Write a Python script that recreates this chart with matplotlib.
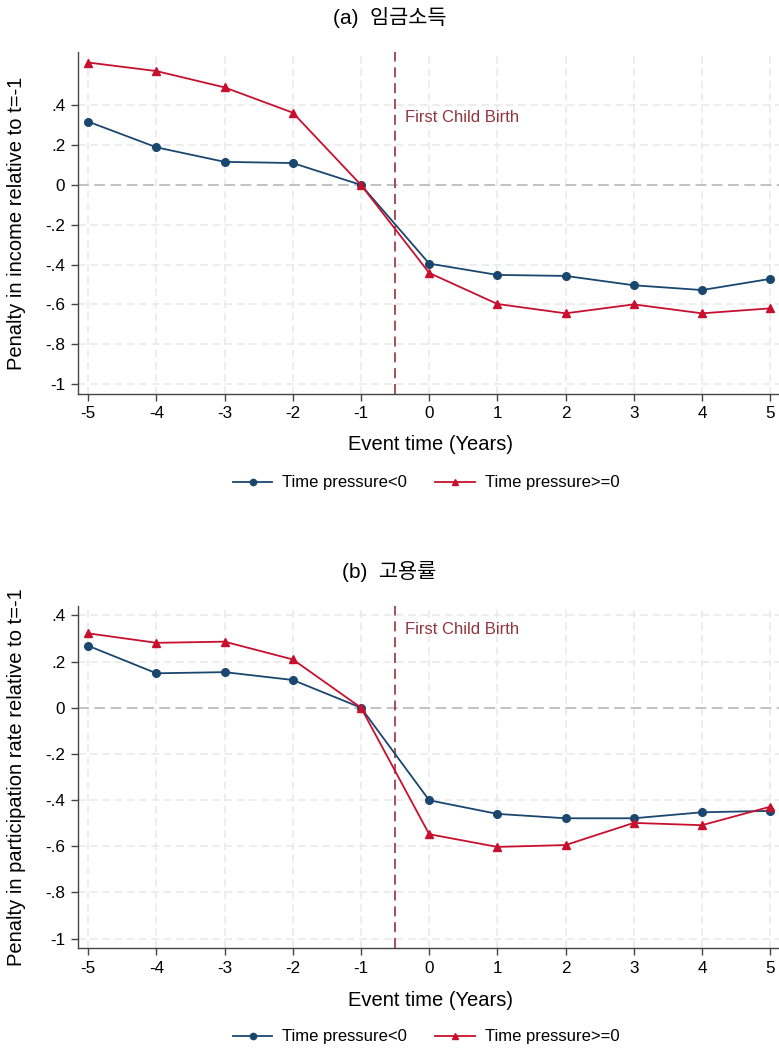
import matplotlib
matplotlib.use("Agg")
import matplotlib.pyplot as plt
import numpy as np

plt.rcParams['font.family'] = ['Liberation Sans', 'Noto Sans CJK KR', 'DejaVu Sans']

# event time
years = [-5, -4, -3, -2, -1, 0, 1, 2, 3, 4, 5]

# panel (a): wage income
income_low = [0.318, 0.189, 0.116, 0.110, 0.0, -0.395, -0.452, -0.457, -0.504, -0.528, -0.472]
income_high = [0.615, 0.572, 0.490, 0.363, 0.0, -0.442, -0.598, -0.645, -0.600, -0.645, -0.620]

# panel (b): employment
emp_low = [0.268, 0.149, 0.154, 0.120, 0.0, -0.401, -0.460, -0.479, -0.479, -0.453, -0.447]
emp_high = [0.322, 0.281, 0.286, 0.209, 0.0, -0.548, -0.603, -0.595, -0.499, -0.509, -0.429]

ytick_vals = [-1, -0.8, -0.6, -0.4, -0.2, 0, 0.2, 0.4]
ytick_labels = ['-1', '-.8', '-.6', '-.4', '-.2', '0', '.2', '.4']
legend_labels = ['Time pressure<0', 'Time pressure>=0']

BLUE = '#1a476f'
RED = '#c8102e'
MAROON = '#93343e'

fig = plt.figure(figsize=(7.79, 10.5), dpi=100)


def panel(rect, low, high, ylim, title, ylabel, title_y, legend_y, xlabel_y):
    ax = fig.add_axes(rect)
    ax.set_xlim(-5.155, 5.13)
    ax.set_ylim(*ylim)

    for v in years:
        ax.axvline(v, color='#e8e8e8', lw=1.1, ls=(0, (5, 3)), zorder=0)
    for v in ytick_vals:
        if v != 0:
            ax.axhline(v, color='#e8e8e8', lw=1.1, ls=(0, (5, 3)), zorder=0)
    ax.axhline(0, color='#bdbdbd', lw=1.3, ls=(0, (6, 3)), zorder=1)

    ax.axvline(-0.5, color=MAROON, lw=1.2, ls=(0, (6, 3.5)), zorder=2)
    ax.text(-0.36, 0.34, 'First Child Birth', color=MAROON, fontsize=12,
            va='center', ha='left')

    ax.plot(years, low, color=BLUE, lw=1.3, marker='o', ms=5.5, zorder=3,
            label=legend_labels[0])
    ax.plot(years, high, color=RED, lw=1.3, marker='^', ms=6, zorder=4,
            label=legend_labels[1])

    ax.set_xticks(years)
    ax.set_xticklabels([str(y) for y in years])
    ax.set_yticks(ytick_vals)
    ax.set_yticklabels(ytick_labels)
    ax.tick_params(axis='both', labelsize=12.3, length=5, width=1.0,
                   color='#444444', direction='out', pad=4)

    for s in ['top', 'right']:
        ax.spines[s].set_visible(False)
    for s in ['left', 'bottom']:
        ax.spines[s].set_color('#444444')
        ax.spines[s].set_linewidth(1.0)

    ax.set_ylabel(ylabel, fontsize=14.5)
    ax.yaxis.set_label_coords(-0.073, 0.5)

    fig.text(0.5, title_y, title, ha='center', va='center', fontsize=15)
    fig.text(0.553, xlabel_y, 'Event time (Years)', ha='center', va='center', fontsize=14.5)

    fig.legend(handles=[
        plt.Line2D([], [], color=BLUE, lw=1.3, marker='o', ms=4.5),
        plt.Line2D([], [], color=RED, lw=1.3, marker='^', ms=4.5)],
        labels=legend_labels, loc='center', bbox_to_anchor=(0.547, legend_y),
        ncol=2, frameon=False, fontsize=12, handlelength=2.35,
        columnspacing=1.7, handletextpad=0.6)
    return ax


panel([0.0997, 0.6248, 0.9003, 0.3257], income_low, income_high, (-1.05, 0.668),
      '(a)  임금소득', 'Penalty in income relative to t=-1',
      1 - 18 / 1050, 1 - 483 / 1050, 1 - 445 / 1050)

panel([0.0997, 0.0969, 0.9003, 0.3262], emp_low, emp_high, (-1.042, 0.4416),
      '(b)  고용률', 'Penalty in participation rate relative to t=-1',
      1 - 572 / 1050, 1 - 1037 / 1050, 1 - 1000 / 1050)

fig.savefig('out.png', dpi=100, facecolor='white')
